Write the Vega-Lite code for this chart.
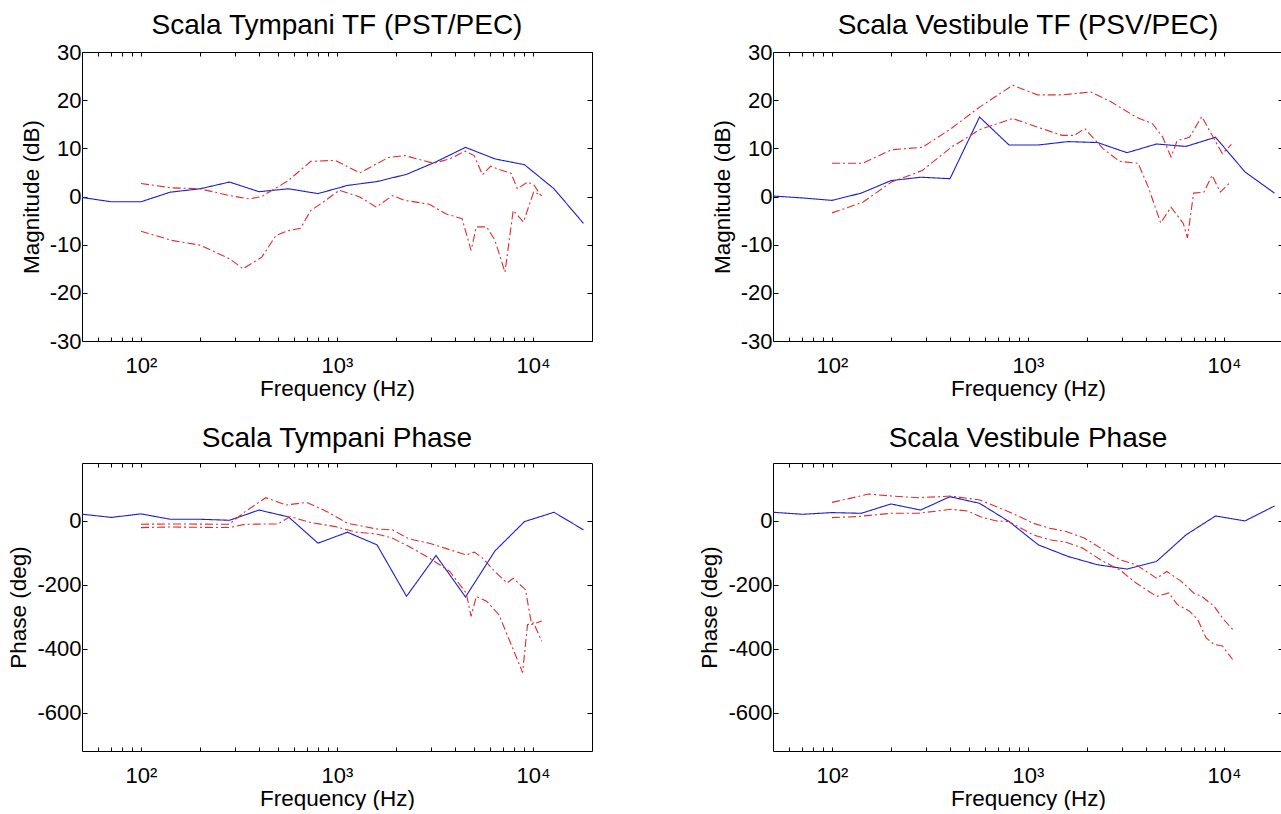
{
  "$schema": "https://vega.github.io/schema/vega-lite/v6.json",
  "background": "white",
  "padding": {"left": 7, "top": 11, "right": 0, "bottom": 0},
  "bounds": "flush",
  "spacing": {"row": 122, "column": 181},
  "columns": 2,
  "config": {
    "font": "Liberation Sans",
    "view": {"stroke": "#000000", "strokeWidth": 1},
    "axis": {"domain": false, "grid": false, "tickColor": "#000000", "tickSize": -5, "tickWidth": 1, "labelColor": "#000000", "titleColor": "#000000", "labelFont": "Liberation Sans", "titleFont": "Liberation Sans", "labelFontSize": 22, "titleFontSize": 22.5, "titleFontWeight": "normal", "labelOverlap": false, "labelFlush": false},
    "axisX": {"tickSize": -4},
    "title": {"font": "Liberation Sans", "fontSize": 28, "fontWeight": "normal", "color": "#000000"}
  },
  "datasets": {
    "tl": [
      {"s":"m","f":50,"v":-0.2},{"s":"m","f":70.7,"v":-1.1},{"s":"m","f":100,"v":-1.1},{"s":"m","f":141,"v":0.9},{"s":"m","f":200,"v":1.6},{"s":"m","f":283,"v":3.0},{"s":"m","f":400,"v":1.0},{"s":"m","f":566,"v":1.6},{"s":"m","f":800,"v":0.6},{"s":"m","f":1131,"v":2.3},{"s":"m","f":1600,"v":3.1},{"s":"m","f":2263,"v":4.6},{"s":"m","f":3200,"v":7.2},{"s":"m","f":4525,"v":10.2},{"s":"m","f":6400,"v":7.8},{"s":"m","f":9051,"v":6.6},{"s":"m","f":12800,"v":1.6},{"s":"m","f":18102,"v":-5.6},
      {"s":"u","f":100,"v":2.7},{"s":"u","f":143,"v":1.8},{"s":"u","f":200,"v":1.6},{"s":"u","f":282,"v":0.2},{"s":"u","f":357,"v":-0.5},{"s":"u","f":413,"v":0},{"s":"u","f":564,"v":3.3},{"s":"u","f":735,"v":7.3},{"s":"u","f":980,"v":7.5},{"s":"u","f":1307,"v":4.9},{"s":"u","f":1830,"v":8.1},{"s":"u","f":2218,"v":8.5},{"s":"u","f":3105,"v":6.9},{"s":"u","f":3763,"v":7.8},{"s":"u","f":4496,"v":9.4},{"s":"u","f":5013,"v":8.5},{"s":"u","f":5523,"v":4.5},{"s":"u","f":6083,"v":6.3},{"s":"u","f":6856,"v":5.5},{"s":"u","f":7738,"v":4.8},{"s":"u","f":8318,"v":1.6},{"s":"u","f":9383,"v":3.0},{"s":"u","f":10070,"v":2.5},{"s":"u","f":11090,"v":-0.1},
      {"s":"l","f":100,"v":-7.2},{"s":"l","f":143,"v":-9.1},{"s":"l","f":200,"v":-10.1},{"s":"l","f":282,"v":-12.9},{"s":"l","f":332,"v":-15},{"s":"l","f":413,"v":-12.6},{"s":"l","f":488,"v":-8.1},{"s":"l","f":564,"v":-7.1},{"s":"l","f":651,"v":-6.6},{"s":"l","f":735,"v":-2.9},{"s":"l","f":848,"v":-1.2},{"s":"l","f":1028,"v":1.3},{"s":"l","f":1307,"v":-0.1},{"s":"l","f":1585,"v":-2.2},{"s":"l","f":1920,"v":0.2},{"s":"l","f":2218,"v":-0.8},{"s":"l","f":2960,"v":-1.6},{"s":"l","f":3589,"v":-3.6},{"s":"l","f":4347,"v":-4.6},{"s":"l","f":4831,"v":-11.2},{"s":"l","f":5140,"v":-6.3},{"s":"l","f":5797,"v":-6.3},{"s":"l","f":6383,"v":-9},{"s":"l","f":7195,"v":-15.7},{"s":"l","f":7925,"v":-2.9},{"s":"l","f":8937,"v":-5.3},{"s":"l","f":10070,"v":0.9},{"s":"l","f":11090,"v":0.2}
    ],
    "tr": [
      {"s":"m","f":50,"v":0.1},{"s":"m","f":70.7,"v":-0.3},{"s":"m","f":100,"v":-0.8},{"s":"m","f":141,"v":0.7},{"s":"m","f":200,"v":3.3},{"s":"m","f":283,"v":4.0},{"s":"m","f":400,"v":3.7},{"s":"m","f":566,"v":16.5},{"s":"m","f":800,"v":10.7},{"s":"m","f":1131,"v":10.7},{"s":"m","f":1600,"v":11.4},{"s":"m","f":2263,"v":11.2},{"s":"m","f":3200,"v":9.1},{"s":"m","f":4525,"v":10.9},{"s":"m","f":6400,"v":10.4},{"s":"m","f":9051,"v":12.3},{"s":"m","f":12800,"v":5.1},{"s":"m","f":18102,"v":0.7},
      {"s":"u","f":100,"v":6.9},{"s":"u","f":143.6,"v":6.9},{"s":"u","f":201,"v":9.7},{"s":"u","f":289,"v":10.2},{"s":"u","f":405,"v":14.1},{"s":"u","f":568,"v":18.6},{"s":"u","f":836,"v":23.1},{"s":"u","f":1117,"v":21.1},{"s":"u","f":1493,"v":21.1},{"s":"u","f":2094,"v":21.7},{"s":"u","f":2665,"v":19.6},{"s":"u","f":3560,"v":16.5},{"s":"u","f":4317,"v":15.1},{"s":"u","f":4871,"v":12.3},{"s":"u","f":5366,"v":8.2},{"s":"u","f":5768,"v":11.6},{"s":"u","f":6667,"v":12.3},{"s":"u","f":7706,"v":16.6},{"s":"u","f":8696,"v":12.7},{"s":"u","f":9808,"v":8.9},{"s":"u","f":10907,"v":10.8},
      {"s":"l","f":100,"v":-3.4},{"s":"l","f":143.6,"v":-1.2},{"s":"l","f":201,"v":3.0},{"s":"l","f":289,"v":5.4},{"s":"l","f":405,"v":10.2},{"s":"l","f":568,"v":13.9},{"s":"l","f":836,"v":16.2},{"s":"l","f":1117,"v":14.4},{"s":"l","f":1493,"v":12.7},{"s":"l","f":1726,"v":12.7},{"s":"l","f":1947,"v":14.1},{"s":"l","f":2419,"v":9.9},{"s":"l","f":2934,"v":7.3},{"s":"l","f":3646,"v":6.9},{"s":"l","f":4114,"v":1.9},{"s":"l","f":4755,"v":-5.5},{"s":"l","f":5366,"v":-2.2},{"s":"l","f":6200,"v":-5.6},{"s":"l","f":6508,"v":-8.6},{"s":"l","f":6998,"v":0.7},{"s":"l","f":7895,"v":0.9},{"s":"l","f":8696,"v":4.4},{"s":"l","f":9574,"v":0.9},{"s":"l","f":10803,"v":3.0}
    ],
    "bl": [
      {"s":"m","f":50,"v":20},{"s":"m","f":70.7,"v":10},{"s":"m","f":100,"v":21},{"s":"m","f":141,"v":4.2},{"s":"m","f":200,"v":4.2},{"s":"m","f":283,"v":1},{"s":"m","f":400,"v":33},{"s":"m","f":566,"v":11.4},{"s":"m","f":800,"v":-70.6},{"s":"m","f":1131,"v":-36.3},{"s":"m","f":1600,"v":-75.8},{"s":"m","f":2263,"v":-236.7},{"s":"m","f":3200,"v":-109},{"s":"m","f":4525,"v":-238.7},{"s":"m","f":6400,"v":-94.5},{"s":"m","f":9051,"v":-3.1},{"s":"m","f":12800,"v":26},{"s":"m","f":18102,"v":-29},
      {"s":"u","f":100,"v":-11.4},{"s":"u","f":141,"v":-10.5},{"s":"u","f":200,"v":-11},{"s":"u","f":282,"v":-11.4},{"s":"u","f":340,"v":28},{"s":"u","f":433,"v":71.6},{"s":"u","f":551,"v":48.8},{"s":"u","f":700,"v":57},{"s":"u","f":890,"v":28},{"s":"u","f":1132,"v":-8.3},{"s":"u","f":1585,"v":-26},{"s":"u","f":1920,"v":-29},{"s":"u","f":2328,"v":-57},{"s":"u","f":2959,"v":-70.6},{"s":"u","f":3763,"v":-91},{"s":"u","f":4560,"v":-107},{"s":"u","f":5020,"v":-98.6},{"s":"u","f":5527,"v":-117},{"s":"u","f":6383,"v":-159},{"s":"u","f":7375,"v":-195},{"s":"u","f":7925,"v":-180},{"s":"u","f":9155,"v":-216},{"s":"u","f":9838,"v":-325},{"s":"u","f":11092,"v":-314},
      {"s":"l","f":100,"v":-21.8},{"s":"l","f":141,"v":-20},{"s":"l","f":200,"v":-21},{"s":"l","f":282,"v":-21.8},{"s":"l","f":340,"v":-11.4},{"s":"l","f":500,"v":-10.4},{"s":"l","f":578,"v":12.5},{"s":"l","f":735,"v":-6.2},{"s":"l","f":980,"v":-18.7},{"s":"l","f":1246,"v":-36},{"s":"l","f":1585,"v":-41.5},{"s":"l","f":1920,"v":-55},{"s":"l","f":2328,"v":-81},{"s":"l","f":2959,"v":-117},{"s":"l","f":3763,"v":-159},{"s":"l","f":4560,"v":-226},{"s":"l","f":4831,"v":-299},{"s":"l","f":5142,"v":-237},{"s":"l","f":5799,"v":-252},{"s":"l","f":6699,"v":-294},{"s":"l","f":7738,"v":-387},{"s":"l","f":8851,"v":-475},{"s":"l","f":9377,"v":-325},{"s":"l","f":10077,"v":-320},{"s":"l","f":11092,"v":-377}
    ],
    "br": [
      {"s":"m","f":50,"v":26},{"s":"m","f":70.7,"v":19.7},{"s":"m","f":100,"v":25},{"s":"m","f":141,"v":22.8},{"s":"m","f":200,"v":52},{"s":"m","f":283,"v":33},{"s":"m","f":400,"v":74.7},{"s":"m","f":566,"v":54},{"s":"m","f":800,"v":-3},{"s":"m","f":1131,"v":-76},{"s":"m","f":1600,"v":-112},{"s":"m","f":2263,"v":-138},{"s":"m","f":3200,"v":-151.5},{"s":"m","f":4525,"v":-127.7},{"s":"m","f":6400,"v":-44.6},{"s":"m","f":9051,"v":14.5},{"s":"m","f":12800,"v":-1},{"s":"m","f":18102,"v":45.7},
      {"s":"u","f":100,"v":57},{"s":"u","f":154.4,"v":83},{"s":"u","f":201,"v":76.8},{"s":"u","f":275.6,"v":71.6},{"s":"u","f":405.5,"v":76.8},{"s":"u","f":568.5,"v":64.4},{"s":"u","f":797,"v":28},{"s":"u","f":1065,"v":-8.3},{"s":"u","f":1291,"v":-23.9},{"s":"u","f":1567,"v":-34},{"s":"u","f":1947,"v":-55},{"s":"u","f":2419,"v":-91},{"s":"u","f":2934,"v":-122},{"s":"u","f":3560,"v":-138},{"s":"u","f":4530,"v":-180},{"s":"u","f":5112,"v":-159},{"s":"u","f":6053,"v":-190},{"s":"u","f":6998,"v":-226},{"s":"u","f":7706,"v":-237},{"s":"u","f":8906,"v":-268},{"s":"u","f":9808,"v":-304},{"s":"u","f":11066,"v":-340},
      {"s":"l","f":100,"v":9.3},{"s":"l","f":133.6,"v":12.5},{"s":"l","f":201,"v":22.8},{"s":"l","f":275.6,"v":22.8},{"s":"l","f":405.5,"v":35.3},{"s":"l","f":491.8,"v":30},{"s":"l","f":568.5,"v":12.5},{"s":"l","f":689.5,"v":-1},{"s":"l","f":797,"v":-3},{"s":"l","f":1065,"v":-44.6},{"s":"l","f":1291,"v":-60},{"s":"l","f":1567,"v":-67.5},{"s":"l","f":1900,"v":-86},{"s":"l","f":2419,"v":-127.7},{"s":"l","f":2934,"v":-153.6},{"s":"l","f":3560,"v":-195},{"s":"l","f":4530,"v":-237},{"s":"l","f":5237,"v":-226},{"s":"l","f":5768,"v":-262},{"s":"l","f":6667,"v":-283},{"s":"l","f":7341,"v":-309},{"s":"l","f":8088,"v":-366},{"s":"l","f":8906,"v":-387},{"s":"l","f":9808,"v":-392},{"s":"l","f":11066,"v":-434}
    ]
  },
  "concat": [
    {
      "width": 510, "height": 289,
      "title": {"text": "Scala Tympani TF (PST/PEC)", "offset": 1},
      "data": {"name": "tl"},
      "layer": [
        {
          "mark": {"type": "line", "strokeWidth": 1.1, "clip": true},
          "encoding": {
            "x": {"field": "f", "type": "quantitative", "scale": {"type": "log", "domain": [50, 20000], "nice": false}, "axis": {"orient": "bottom", "title": "Frequency (Hz)", "values": [60,70,80,90,100,200,300,400,500,600,700,800,900,1000,2000,3000,4000,5000,6000,7000,8000,9000,10000], "labelExpr": "datum.value == 100 ? '10²' : datum.value == 1000 ? '10³' : datum.value == 10000 ? '10⁴' : ''", "labelPadding": 18, "titlePadding": 1}},
            "y": {"field": "v", "type": "quantitative", "scale": {"domain": [-30, 30], "nice": false, "zero": false}, "axis": {"orient": "left", "title": "Magnitude (dB)", "values": [-30,-20,-10,0,10,20,30], "labelExpr": "datum.value < 0 ? '-' + abs(datum.value) : '' + datum.value", "labelPadding": 6, "titlePadding": 6}},
            "color": {"field": "s", "type": "nominal", "scale": {"domain": ["m","u","l"], "range": ["#1c1cd0","#e32b2b","#e32b2b"]}, "legend": null},
            "strokeDash": {"field": "s", "type": "nominal", "scale": {"domain": ["m","u","l"], "range": [[1,0],[8,3,2,3],[8,3,2,3]]}, "legend": null}
          }
        },
        {
          "mark": {"type": "line", "opacity": 0},
          "encoding": {
            "x": {"field": "f", "type": "quantitative", "scale": {"type": "log", "domain": [50, 20000], "nice": false}, "axis": {"orient": "top", "title": null, "labels": false, "values": [60,70,80,90,100,200,300,400,500,600,700,800,900,1000,2000,3000,4000,5000,6000,7000,8000,9000,10000]}},
            "y": {"field": "v", "type": "quantitative", "scale": {"domain": [-30, 30], "nice": false, "zero": false}, "axis": {"orient": "right", "title": null, "labels": false, "values": [-30,-20,-10,0,10,20,30]}}
          }
        }
      ],
      "resolve": {"axis": {"x": "independent", "y": "independent"}}
    },
    {
      "width": 510, "height": 289,
      "title": {"text": "Scala Vestibule TF (PSV/PEC)", "offset": 1},
      "data": {"name": "tr"},
      "layer": [
        {
          "mark": {"type": "line", "strokeWidth": 1.1, "clip": true},
          "encoding": {
            "x": {"field": "f", "type": "quantitative", "scale": {"type": "log", "domain": [50, 20000], "nice": false}, "axis": {"orient": "bottom", "title": "Frequency (Hz)", "values": [60,70,80,90,100,200,300,400,500,600,700,800,900,1000,2000,3000,4000,5000,6000,7000,8000,9000,10000], "labelExpr": "datum.value == 100 ? '10²' : datum.value == 1000 ? '10³' : datum.value == 10000 ? '10⁴' : ''", "labelPadding": 18, "titlePadding": 1}},
            "y": {"field": "v", "type": "quantitative", "scale": {"domain": [-30, 30], "nice": false, "zero": false}, "axis": {"orient": "left", "title": "Magnitude (dB)", "values": [-30,-20,-10,0,10,20,30], "labelExpr": "datum.value < 0 ? '-' + abs(datum.value) : '' + datum.value", "labelPadding": 6, "titlePadding": 6}},
            "color": {"field": "s", "type": "nominal", "scale": {"domain": ["m","u","l"], "range": ["#1c1cd0","#e32b2b","#e32b2b"]}, "legend": null},
            "strokeDash": {"field": "s", "type": "nominal", "scale": {"domain": ["m","u","l"], "range": [[1,0],[8,3,2,3],[8,3,2,3]]}, "legend": null}
          }
        },
        {
          "mark": {"type": "line", "opacity": 0},
          "encoding": {
            "x": {"field": "f", "type": "quantitative", "scale": {"type": "log", "domain": [50, 20000], "nice": false}, "axis": {"orient": "top", "title": null, "labels": false, "values": [60,70,80,90,100,200,300,400,500,600,700,800,900,1000,2000,3000,4000,5000,6000,7000,8000,9000,10000]}},
            "y": {"field": "v", "type": "quantitative", "scale": {"domain": [-30, 30], "nice": false, "zero": false}, "axis": {"orient": "right", "title": null, "labels": false, "values": [-30,-20,-10,0,10,20,30]}}
          }
        }
      ],
      "resolve": {"axis": {"x": "independent", "y": "independent"}}
    },
    {
      "width": 510, "height": 288,
      "title": {"text": "Scala Tympani Phase", "offset": 10},
      "data": {"name": "bl"},
      "layer": [
        {
          "mark": {"type": "line", "strokeWidth": 1.1, "clip": true},
          "encoding": {
            "x": {"field": "f", "type": "quantitative", "scale": {"type": "log", "domain": [50, 20000], "nice": false}, "axis": {"orient": "bottom", "title": "Frequency (Hz)", "values": [60,70,80,90,100,200,300,400,500,600,700,800,900,1000,2000,3000,4000,5000,6000,7000,8000,9000,10000], "labelExpr": "datum.value == 100 ? '10²' : datum.value == 1000 ? '10³' : datum.value == 10000 ? '10⁴' : ''", "labelPadding": 18, "titlePadding": 1}},
            "y": {"field": "v", "type": "quantitative", "scale": {"domain": [-720, 180], "nice": false, "zero": false}, "axis": {"orient": "left", "title": "Phase (deg)", "values": [-600,-400,-200,0], "labelExpr": "datum.value < 0 ? '-' + abs(datum.value) : '' + datum.value", "labelPadding": 6, "titlePadding": 6}},
            "color": {"field": "s", "type": "nominal", "scale": {"domain": ["m","u","l"], "range": ["#1c1cd0","#e32b2b","#e32b2b"]}, "legend": null},
            "strokeDash": {"field": "s", "type": "nominal", "scale": {"domain": ["m","u","l"], "range": [[1,0],[8,3,2,3],[8,3,2,3]]}, "legend": null}
          }
        },
        {
          "mark": {"type": "line", "opacity": 0},
          "encoding": {
            "x": {"field": "f", "type": "quantitative", "scale": {"type": "log", "domain": [50, 20000], "nice": false}, "axis": {"orient": "top", "title": null, "labels": false, "values": [60,70,80,90,100,200,300,400,500,600,700,800,900,1000,2000,3000,4000,5000,6000,7000,8000,9000,10000]}},
            "y": {"field": "v", "type": "quantitative", "scale": {"domain": [-720, 180], "nice": false, "zero": false}, "axis": {"orient": "right", "title": null, "labels": false, "values": [-600,-400,-200,0]}}
          }
        }
      ],
      "resolve": {"axis": {"x": "independent", "y": "independent"}}
    },
    {
      "width": 510, "height": 288,
      "title": {"text": "Scala Vestibule Phase", "offset": 10},
      "data": {"name": "br"},
      "layer": [
        {
          "mark": {"type": "line", "strokeWidth": 1.1, "clip": true},
          "encoding": {
            "x": {"field": "f", "type": "quantitative", "scale": {"type": "log", "domain": [50, 20000], "nice": false}, "axis": {"orient": "bottom", "title": "Frequency (Hz)", "values": [60,70,80,90,100,200,300,400,500,600,700,800,900,1000,2000,3000,4000,5000,6000,7000,8000,9000,10000], "labelExpr": "datum.value == 100 ? '10²' : datum.value == 1000 ? '10³' : datum.value == 10000 ? '10⁴' : ''", "labelPadding": 18, "titlePadding": 1}},
            "y": {"field": "v", "type": "quantitative", "scale": {"domain": [-720, 180], "nice": false, "zero": false}, "axis": {"orient": "left", "title": "Phase (deg)", "values": [-600,-400,-200,0], "labelExpr": "datum.value < 0 ? '-' + abs(datum.value) : '' + datum.value", "labelPadding": 6, "titlePadding": 6}},
            "color": {"field": "s", "type": "nominal", "scale": {"domain": ["m","u","l"], "range": ["#1c1cd0","#e32b2b","#e32b2b"]}, "legend": null},
            "strokeDash": {"field": "s", "type": "nominal", "scale": {"domain": ["m","u","l"], "range": [[1,0],[8,3,2,3],[8,3,2,3]]}, "legend": null}
          }
        },
        {
          "mark": {"type": "line", "opacity": 0},
          "encoding": {
            "x": {"field": "f", "type": "quantitative", "scale": {"type": "log", "domain": [50, 20000], "nice": false}, "axis": {"orient": "top", "title": null, "labels": false, "values": [60,70,80,90,100,200,300,400,500,600,700,800,900,1000,2000,3000,4000,5000,6000,7000,8000,9000,10000]}},
            "y": {"field": "v", "type": "quantitative", "scale": {"domain": [-720, 180], "nice": false, "zero": false}, "axis": {"orient": "right", "title": null, "labels": false, "values": [-600,-400,-200,0]}}
          }
        }
      ],
      "resolve": {"axis": {"x": "independent", "y": "independent"}}
    }
  ]
}
